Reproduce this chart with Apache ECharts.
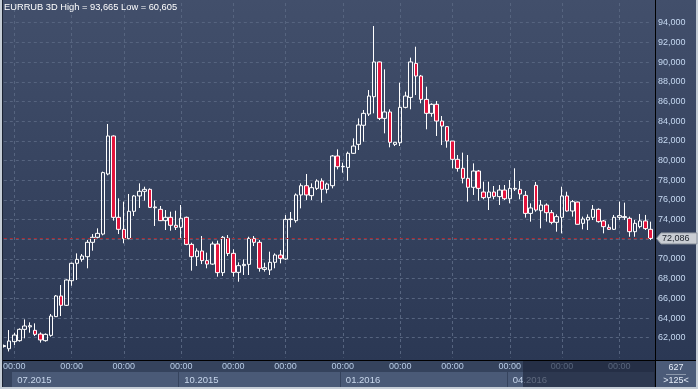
<!DOCTYPE html>
<html><head><meta charset="utf-8">
<script src="https://cdn.jsdelivr.net/npm/echarts@6/dist/echarts.min.js"></script>
<style>
html,body{margin:0;padding:0;width:698px;height:389px;overflow:hidden;background:#c5cdd6;}
#wrap{position:absolute;left:0;top:0;width:698px;height:389px;}
.bg{position:absolute;}
#chart{position:absolute;left:0;top:0;width:698px;height:389px;}
#over{position:absolute;left:523px;top:361px;width:132px;height:26px;background:rgba(28,36,56,0.62);pointer-events:none;}
</style></head><body>
<div id="wrap">
 <div class="bg" style="left:2px;top:0;width:653px;height:361px;background:linear-gradient(#424f6b,#2b3854);"></div>
 <div class="bg" style="left:656px;top:0;width:40px;height:361px;background:linear-gradient(#424f6b,#2b3854);"></div>
 <div class="bg" style="left:2px;top:361px;width:653px;height:26px;background:#35435d;"></div>
 <div class="bg" style="left:656px;top:361px;width:40px;height:26px;background:#4b5b78;"></div>
</div>
<div id="chart"></div>
<div id="over"></div>
<div class="bg" style="left:655px;top:0;width:1px;height:387px;background:#000;"></div>
<div class="bg" style="left:2px;top:360px;width:694px;height:1px;background:#000;"></div>
<div class="bg" style="left:2px;top:0;width:1px;height:387px;background:#1a2232;"></div>
<script>
const symbolName = 'EURRUB';
const periodName = '3D';
const categories = [
'2015-06-25','2015-06-28',
'2015-07-01','2015-07-04','2015-07-07','2015-07-10','2015-07-13','2015-07-16','2015-07-19','2015-07-22','2015-07-25','2015-07-28','2015-07-31',
'2015-08-02','2015-08-05','2015-08-08','2015-08-11','2015-08-14','2015-08-17','2015-08-20','2015-08-23','2015-08-26','2015-08-29',
'2015-09-01','2015-09-04','2015-09-07','2015-09-10','2015-09-13','2015-09-16','2015-09-19','2015-09-22','2015-09-25','2015-09-28','2015-09-30',
'2015-10-02','2015-10-05','2015-10-08','2015-10-11','2015-10-14','2015-10-17','2015-10-20','2015-10-23','2015-10-26','2015-10-29',
'2015-11-01','2015-11-04','2015-11-07','2015-11-10','2015-11-13','2015-11-16','2015-11-19','2015-11-22','2015-11-25','2015-11-28',
'2015-12-01','2015-12-04','2015-12-07','2015-12-10','2015-12-13','2015-12-16','2015-12-19','2015-12-22','2015-12-25','2015-12-28','2015-12-30',
'2016-01-01','2016-01-04','2016-01-07','2016-01-10','2016-01-13','2016-01-16','2016-01-19','2016-01-22','2016-01-25','2016-01-28','2016-01-31',
'2016-02-01','2016-02-04','2016-02-07','2016-02-10','2016-02-13','2016-02-16','2016-02-19','2016-02-22','2016-02-25','2016-02-28',
'2016-03-01','2016-03-04','2016-03-07','2016-03-10','2016-03-13','2016-03-16','2016-03-19','2016-03-22','2016-03-25','2016-03-28','2016-03-31',
'2016-04-01','2016-04-04','2016-04-07','2016-04-10','2016-04-13','2016-04-16','2016-04-19','2016-04-22','2016-04-25','2016-04-28',
'2016-05-01','2016-05-04','2016-05-07','2016-05-10','2016-05-13','2016-05-16','2016-05-19','2016-05-22','2016-05-25','2016-05-28','2016-05-31',
'2016-06-03','2016-06-06','2016-06-09','2016-06-12','2016-06-15','2016-06-18','2016-06-21'
];
const opens = [
61.10,60.88,61.60,61.70,62.85,63.10,62.75,62.37,61.70,62.24,
64.14,66.24,65.29,67.79,69.56,69.96,70.23,71.69,72.20,72.53,
78.63,82.49,74.23,73.01,72.06,74.84,76.40,76.87,77.07,75.20,
75.04,73.89,74.23,73.42,73.21,74.23,71.48,70.23,70.81,69.83,
69.48,71.52,68.61,72.10,70.57,68.64,69.32,69.45,72.09,71.69,
68.94,68.88,69.66,70.40,70.00,74.00,73.89,76.50,77.44,76.43,
77.17,77.92,77.07,77.44,80.46,79.37,79.30,80.73,81.64,83.58,
84.72,86.48,90.01,84.28,84.93,81.64,81.81,85.40,86.41,89.87,
88.58,86.21,84.79,85.71,84.01,83.44,81.98,80.12,79.21,78.19,
77.28,78.93,76.80,76.23,76.80,76.33,77.00,76.12,77.10,77.07,
76.46,74.63,77.48,74.90,75.48,74.70,73.72,74.23,76.40,74.87,
75.78,73.62,73.96,74.23,75.04,73.86,73.21,73.01,74.23,74.20,
74.13,72.77,73.28,73.86,73.01
];
const closes = [
61.20,61.66,62.27,62.85,63.19,63.22,62.34,61.77,62.34,64.20,
66.24,65.29,67.86,69.56,69.96,70.30,71.69,72.20,72.60,78.77,
82.49,74.23,73.01,72.06,74.84,76.40,76.87,77.07,75.24,75.28,
73.89,74.23,73.42,73.21,74.13,71.48,70.23,70.81,69.83,69.48,
71.52,68.61,72.20,70.55,68.64,69.32,69.45,72.09,71.69,69.05,
69.11,69.66,70.40,70.06,74.02,74.05,76.50,77.44,76.50,77.24,
77.92,77.07,77.61,80.46,79.37,79.40,80.73,81.47,83.61,84.79,
86.55,90.01,84.28,84.93,81.85,81.85,85.40,86.55,90.01,88.58,
86.21,84.79,85.71,84.01,83.50,81.98,80.12,79.20,78.19,77.28,
78.93,77.17,76.23,76.80,76.36,77.00,76.12,77.17,77.17,76.60,
74.63,75.18,74.97,75.48,74.70,73.72,74.30,76.40,74.87,75.82,
73.52,74.06,74.23,75.04,73.79,73.28,73.01,74.23,74.40,74.30,
72.77,73.62,73.86,73.08,72.086
];
const lows = [
61.00,60.605,61.26,61.60,61.94,62.51,62.17,61.50,61.60,62.10,
64.10,64.20,65.22,67.28,67.86,69.72,69.05,70.84,72.10,72.40,
78.50,73.89,72.53,71.59,72.00,74.36,75.18,75.92,75.20,73.35,
73.85,72.94,72.87,72.94,72.10,71.40,68.81,69.28,69.48,69.05,
69.40,68.20,68.27,70.30,68.20,67.69,68.37,68.37,71.31,68.71,
68.71,68.37,69.05,69.55,69.90,73.21,73.68,75.14,75.99,75.99,
77.00,75.72,76.66,77.17,79.10,78.76,77.95,80.66,81.07,81.91,
84.52,84.79,84.11,82.76,81.34,81.47,81.47,85.30,85.20,86.65,
85.81,83.17,84.45,82.49,81.57,81.30,79.20,78.87,77.68,75.82,
76.50,75.92,76.06,74.97,76.06,75.48,75.99,75.65,76.90,76.06,
74.20,73.79,74.80,73.11,73.79,73.52,72.77,72.60,74.80,74.30,
73.50,73.01,72.94,73.96,73.69,72.60,72.94,72.94,73.96,73.96,
72.26,72.26,73.11,72.94,71.92
];
const highs = [
61.30,62.78,62.50,62.95,63.86,63.56,63.46,62.54,62.44,64.41,
66.34,67.35,67.93,69.62,70.57,70.50,71.93,72.53,73.11,78.87,
83.71,82.55,76.16,75.82,76.60,76.50,77.68,77.34,77.17,75.92,
75.38,74.97,74.80,74.90,75.48,74.30,71.65,71.08,72.33,70.64,
71.76,71.86,72.33,72.43,70.98,69.66,69.96,72.26,72.33,71.92,
69.62,70.74,70.57,70.91,74.46,74.77,76.66,77.68,78.63,77.68,
78.09,78.19,77.75,80.56,81.13,79.78,80.90,82.25,84.28,85.13,
87.16,93.665,90.05,89.26,85.20,81.85,87.91,86.99,90.45,91.56,
88.69,87.50,85.81,86.04,84.52,83.50,81.98,80.56,80.80,80.56,
79.71,79.04,77.85,77.85,77.41,77.51,77.51,78.02,79.21,77.92,
76.90,75.65,77.82,75.99,75.65,74.97,74.53,77.34,76.83,75.99,
75.82,74.30,74.53,75.48,75.14,73.96,73.52,74.47,75.82,75.72,
74.30,73.96,74.57,74.47,73.79
];
const yTickMin = 60, yTickMax = 96, yTickStep = 2;
const barsCountLabel = '627';
const visibleCountLabel = '>125<';

const fmt = v => v.toFixed(3).replace('.', ',');
const ohlc = opens.map((o, i) => [o, closes[i], lows[i], highs[i]]);
const lastClose = closes[closes.length - 1];
const hi = Math.max(...highs), lo = Math.min(...lows);
const monthStart = i => i > 0 && categories[i].slice(0, 7) !== categories[i - 1].slice(0, 7);
const quarterStart = i => monthStart(i) && [1, 4, 7, 10].includes(+categories[i].slice(5, 7));
const FONT = 'Liberation Sans, Arial, sans-serif';

const chart = echarts.init(document.getElementById('chart'), null, {renderer: 'canvas'});
chart.setOption({
  animation: false,
  backgroundColor: 'transparent',
  title: {
    text: symbolName + ' ' + periodName + ' High = ' + fmt(hi) + ' Low = ' + fmt(lo),
    left: 4, top: 3, padding: 0,
    textStyle: {color: '#ffffff', fontSize: 9.3, fontWeight: 'normal', fontFamily: FONT}
  },
  grid: {left: 3.3, right: 47.4, top: 3, bottom: 31.6, containLabel: false},
  xAxis: [{
    type: 'category', data: categories, boundaryGap: false,
    axisLine: {show: false}, axisTick: {show: false},
    axisLabel: {interval: (i) => monthStart(i), formatter: () => '00:00',
      color: '#b8cce6', fontSize: 9, fontFamily: FONT, margin: 5},
    splitLine: {show: true, interval: (i) => monthStart(i),
      lineStyle: {color: '#56647f', type: [3, 3], width: 1}}
  }, {
    type: 'category', data: categories, boundaryGap: false, position: 'bottom', offset: 12,
    axisLine: {show: false}, axisTick: {show: false}, splitLine: {show: false},
    axisLabel: {interval: (i) => quarterStart(i),
      formatter: (v) => v.slice(5, 7) + '.' + v.slice(0, 4),
      align: 'left', padding: [0, 0, 0, 3],
      color: '#c8d7ec', fontSize: 9.5, fontFamily: FONT, margin: 6}
  }],
  yAxis: {
    type: 'value', position: 'right', min: yTickMin, max: yTickMax, interval: yTickStep, offset: 4.4,
    axisLine: {show: false}, axisTick: {show: false},
    axisLabel: {formatter: (v) => fmt(v), color: '#c6d9f2', fontSize: 9, fontFamily: FONT, margin: 3,
      showMinLabel: false, showMaxLabel: false},
    splitLine: {show: true, showMinLine: false, showMaxLine: false,
      lineStyle: {color: '#56647f', type: [3, 3], width: 1}}
  },
  series: [{
    type: 'candlestick', data: ohlc, barWidth: 4, clip: false,
    itemStyle: {color: 'rgba(0,0,0,0)', color0: '#e3143c', borderColor: '#ffffff',
      borderColor0: '#ffffff', borderColorDoji: '#ffffff', borderWidth: 1},
    markLine: {
      silent: true, symbol: 'none', label: {show: false},
      lineStyle: {color: '#a82a32', type: [3, 3], width: 1},
      data: [{yAxis: lastClose}]
    }
  }]
});

// quarter boxes below the x axis, placed through the axis scale
const wrap = document.getElementById('wrap');
const qIdx = categories.map((c, i) => i).filter(quarterStart);
qIdx.forEach((q, k) => {
  const x0 = chart.convertToPixel({xAxisIndex: 0}, categories[q]) - 2;
  const x1 = k + 1 < qIdx.length ? chart.convertToPixel({xAxisIndex: 0}, categories[qIdx[k + 1]]) - 3 : 654;
  const d = document.createElement('div');
  d.className = 'bg';
  d.style.cssText = 'left:' + x0 + 'px;top:372px;width:' + (x1 - x0) + 'px;height:15px;background:#4a5a77;';
  wrap.appendChild(d);
});

const py = chart.convertToPixel({yAxisIndex: 0}, lastClose);
chart.setOption({
  graphic: [
    {type: 'polygon', shape: {points: [[656.5, py], [661, py - 5.5], [697, py - 5.5], [697, py + 5.5], [661, py + 5.5]]},
      style: {fill: '#c9cdd3', stroke: '#8e959f', lineWidth: 1}, z: 10},
    {type: 'text', x: 662, y: py, style: {text: fmt(lastClose), fill: '#1c222c', font: '9px ' + FONT,
      verticalAlign: 'middle', textAlign: 'left'}, z: 11},
    {type: 'text', x: 676, y: 367.5, style: {text: barsCountLabel, fill: '#e4ecf8', font: '9px ' + FONT,
      verticalAlign: 'middle', textAlign: 'center'}, z: 11},
    {type: 'line', shape: {x1: 666, y1: 374.5, x2: 686, y2: 374.5}, style: {stroke: '#8c98ab', lineWidth: 1}, z: 11},
    {type: 'text', x: 676, y: 380.5, style: {text: visibleCountLabel, fill: '#e4ecf8', font: '9px ' + FONT,
      verticalAlign: 'middle', textAlign: 'center'}, z: 11}
  ]
});
</script>
</body></html>
